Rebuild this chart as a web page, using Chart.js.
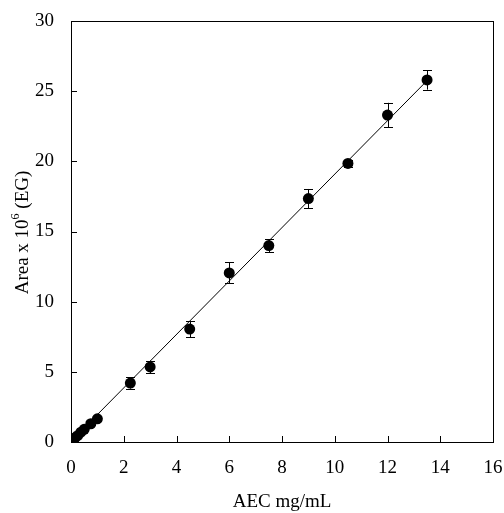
<!DOCTYPE html>
<html>
<head>
<meta charset="utf-8">
<script src="https://cdn.jsdelivr.net/npm/chart.js@4.4.0/dist/chart.umd.min.js"></script>
<style>
  html, body { margin: 0; padding: 0; background: #fff; }
  #wrap { width: 504px; height: 513px; }
</style>
</head>
<body>
<div id="wrap"><canvas id="c"></canvas></div>
<script>
// AEC concentration (mg/mL) and peak area (x10^6)
const concX   = [0.02, 0.05, 0.1, 0.15, 0.25, 0.375, 0.5, 0.75, 1.0, 2.25, 3.0, 4.5, 6.0, 7.5, 9.0, 10.5, 12.0, 13.5];
const areaY   = [0.05, 0.1, 0.2, 0.3, 0.45, 0.7, 0.9, 1.3, 1.65, 4.2, 5.35, 8.05, 12.05, 14.0, 17.35, 19.85, 23.3, 25.8];
const areaErr = [0, 0, 0, 0, 0, 0, 0.1, 0.1, 0.15, 0.4, 0.45, 0.58, 0.75, 0.46, 0.68, 0.25, 0.87, 0.69];

// regression line end points
const fitX = [0, 13.5];
const fitY = [0.05, 25.75];

const xTicks = [0, 2, 4, 6, 8, 10, 12, 14, 16];
const yTicks = [0, 5, 10, 15, 20, 25, 30];

const FONT = "'Liberation Serif', 'DejaVu Serif', serif";
const FSIZE = 19;

const extras = {
    id: 'extras',
    beforeDatasetsDraw(chart) {
        // error bars, drawn under the dots
        const ctx = chart.ctx;
        const xs = chart.scales.x, ys = chart.scales.y;
        ctx.save();
        ctx.strokeStyle = '#000';
        ctx.lineWidth = 1;
        concX.forEach((cx, i) => {
            const e = areaErr[i];
            if (!e) return;
            const px = Math.round(xs.getPixelForValue(cx)) + 0.5;
            const top = ys.getPixelForValue(areaY[i] + e);
            const bot = ys.getPixelForValue(areaY[i] - e);
            ctx.beginPath();
            ctx.moveTo(px, top); ctx.lineTo(px, bot);
            ctx.moveTo(px - 4.5, Math.round(top) + 0.5); ctx.lineTo(px + 4.5, Math.round(top) + 0.5);
            ctx.moveTo(px - 4.5, Math.round(bot) + 0.5); ctx.lineTo(px + 4.5, Math.round(bot) + 0.5);
            ctx.stroke();
        });
        ctx.restore();
    },
    afterDraw(chart) {
        const ctx = chart.ctx;
        const a = chart.chartArea;
        const xs = chart.scales.x, ys = chart.scales.y;
        ctx.save();
        ctx.strokeStyle = '#000';
        ctx.lineWidth = 1;
        // frame
        ctx.strokeRect(Math.round(a.left) + 0.5, Math.round(a.top) + 0.5,
                       Math.round(a.right - a.left), Math.round(a.bottom - a.top));
        // inward ticks
        ctx.beginPath();
        xTicks.forEach(v => {
            if (v === 0 || v === 16) return;
            const px = Math.round(xs.getPixelForValue(v)) + 0.5;
            ctx.moveTo(px, a.bottom); ctx.lineTo(px, a.bottom - 6);
        });
        yTicks.forEach(v => {
            if (v === 0 || v === 30) return;
            const py = Math.round(ys.getPixelForValue(v)) + 0.5;
            ctx.moveTo(a.left, py); ctx.lineTo(a.left + 6, py);
        });
        ctx.stroke();

        // y axis title with superscript
        ctx.fillStyle = '#000';
        ctx.translate(23, (a.top + a.bottom) / 2 + 1);
        ctx.rotate(-Math.PI / 2);
        ctx.textBaseline = 'middle';
        const big = FSIZE + 'px ' + FONT, small = '12px ' + FONT;
        const p1 = 'Area x 10', p2 = '6', p3 = ' (EG)';
        ctx.font = big;
        const w1 = ctx.measureText(p1).width, w3 = ctx.measureText(p3).width;
        ctx.font = small;
        const w2 = ctx.measureText(p2).width;
        let x = -(w1 + w2 + w3) / 2;
        ctx.font = big;  ctx.fillText(p1, x, 0); x += w1;
        ctx.font = small; ctx.fillText(p2, x, -7); x += w2;
        ctx.font = big;  ctx.fillText(p3, x, 0);
        ctx.restore();
    }
};

new Chart(document.getElementById('c'), {
    type: 'scatter',
    data: {
        datasets: [{
            label: 'fit',
            data: fitX.map((x, i) => ({ x: x, y: fitY[i] })),
            showLine: true,
            borderColor: '#000',
            borderWidth: 1,
            pointRadius: 0,
            order: 2
        }, {
            label: 'AEC',
            data: concX.map((x, i) => ({ x: x, y: areaY[i] })),
            backgroundColor: '#000',
            borderColor: '#000',
            pointRadius: 5.5,
            pointBorderWidth: 0,
            order: 1
        }]
    },
    options: {
        responsive: true,
        maintainAspectRatio: false,
        animation: false,
        layout: { padding: { top: 21, right: 11, left: 0, bottom: 0 } },
        plugins: {
            legend: { display: false },
            tooltip: { enabled: false }
        },
        scales: {
            x: {
                type: 'linear',
                min: 0, max: 16,
                afterBuildTicks: s => { s.ticks = xTicks.map(v => ({ value: v })); },
                afterFit: s => { s.height = 71; s.paddingLeft = 0; s.paddingRight = 0; },
                grid: { display: false },
                border: { display: false },
                ticks: { color: '#000', padding: 7, maxRotation: 0, font: { family: FONT, size: FSIZE } },
                title: { display: true, text: 'AEC mg/mL', color: '#000', padding: { top: 0, bottom: 0 }, font: { family: FONT, size: FSIZE } }
            },
            y: {
                type: 'linear',
                min: 0, max: 30,
                afterBuildTicks: s => { s.ticks = yTicks.map(v => ({ value: v })); },
                afterFit: s => { s.width = 71; s.paddingTop = 0; s.paddingBottom = 0; },
                grid: { display: false },
                border: { display: false },
                ticks: { color: '#000', padding: 9, font: { family: FONT, size: FSIZE } }
            }
        }
    },
    plugins: [extras]
});
</script>
</body>
</html>
